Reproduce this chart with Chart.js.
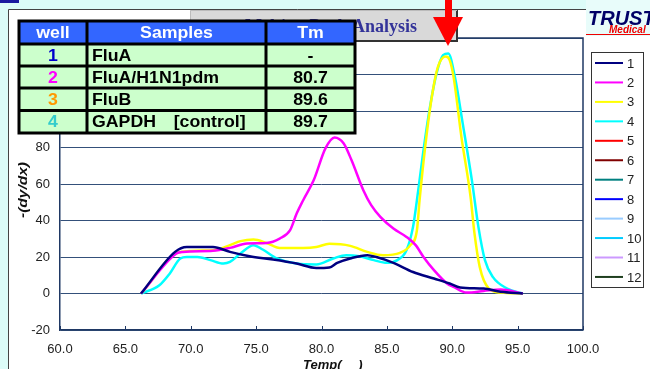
<!DOCTYPE html>
<html><head><meta charset="utf-8">
<script src="https://cdn.jsdelivr.net/npm/chart.js@4/dist/chart.umd.min.js"></script>
<style>html,body{margin:0;padding:0;background:#dcfcf8;overflow:hidden}canvas{display:block}</style>
</head><body><canvas id="c" width="650" height="369"></canvas>
<script>
// ---- data ----
const seriesLabels = ['1','2','3','4','5','6','7','8','9','10','11','12'];
const seriesColors = ['#000080','#ff00ff','#ffff00','#00ffff','#ff0000','#800000','#008080','#0000ff','#99ccff','#00ccff','#cc99ff','#1f3f1f'];

const temp1 = [66.2, 68.8, 69.7, 71.7, 73.0, 74.5, 76.3, 78.1, 79.6, 80.6, 81.2, 82.2, 83.5, 84.2, 85.5, 87.0, 88.6, 89.8, 90.6, 92.4, 93.7, 95.4];
const val1  = [0, 22.8, 25.5, 25.5, 22.8, 20.4, 18.6, 16.4, 14.0, 14.3, 16.8, 19.2, 21.0, 20.0, 16.8, 11.8, 8.2, 5.5, 3.3, 2.7, 0.9, 0];

const temp2 = [66.2, 68.9, 69.4, 71.7, 73.0, 74.3, 75.8, 76.8, 77.6, 78.1, 78.6, 79.4, 80.3, 81.0, 81.7, 82.3, 83.2, 83.8, 84.5, 85.5, 86.5, 87.2, 87.8, 88.6, 89.6, 90.1, 91.1, 92.4, 93.7, 95.4];
const val2  = [0, 21.9, 22.8, 23.4, 25.0, 27.4, 27.7, 30.1, 34.7, 43.8, 51.1, 62.0, 79.5, 85.5, 82.2, 73.0, 56.6, 48.4, 42.0, 35.6, 31.0, 26.5, 20.0, 12.8, 5.5, 3.6, 0.5, 1.4, 2.2, 0];

const temp3 = [66.2, 69.2, 71.7, 73.0, 73.8, 74.8, 75.8, 76.8, 78.6, 79.6, 80.6, 82.2, 83.5, 84.7, 86.0, 86.8, 87.3, 87.5, 87.9, 88.4, 88.9, 89.5, 89.8, 90.1, 90.7, 91.4, 91.7, 92.1, 92.8, 93.7, 95.4];
const val3  = [0, 22.8, 23.7, 26.5, 28.7, 29.6, 27.7, 25.0, 25.0, 25.5, 27.2, 26.1, 22.8, 21.0, 22.3, 26.5, 34.7, 51.0, 78.5, 106.0, 124.0, 129.8, 127.9, 118.7, 85.8, 53.0, 32.9, 14.6, 2.7, 0.5, 0];

const temp4 = [66.2, 67.6, 68.4, 69.2, 69.7, 70.5, 71.5, 72.5, 73.0, 73.8, 74.8, 75.5, 76.6, 78.1, 79.6, 80.9, 81.9, 82.9, 84.0, 85.0, 85.8, 86.5, 87.0, 87.4, 87.8, 88.3, 88.8, 89.3, 89.7, 90.2, 90.8, 91.5, 92.0, 92.5, 93.1, 94.2, 95.4];
const val4  = [0, 4.5, 11.0, 19.2, 20.0, 20.0, 18.3, 16.4, 17.3, 21.9, 26.5, 24.1, 19.2, 16.4, 15.9, 19.2, 21.0, 20.4, 18.3, 16.8, 18.3, 23.7, 36.5, 56.6, 78.5, 102.3, 120.6, 130.6, 131.5, 118.7, 93.2, 62.1, 36.5, 18.3, 9.1, 2.7, 0];

const xTickMin = 60, xTickMax = 100, xTickStep = 5;
const yTickMin = -20, yTickMax = 140, yTickStep = 20;

const tableHeader = ['well', 'Samples', 'Tm'];
const tableWells = ['1', '2', '3', '4'];
const tableWellColors = ['#0000cc', '#ff00ff', '#ff9900', '#33cccc'];
const tableSamples = ['FluA', 'FluA/H1N1pdm', 'FluB', 'GAPDH\u3000[control]'];
const tableTm = ['-', '80.7', '89.6', '89.7'];

const chartTitle = 'Melting Peak Analysis';
const xTitle = 'Temp(\u3000 )';
const yTitle = '-(dy/dx)';

// ---- build datasets ----
const series = [[temp1, val1], [temp2, val2], [temp3, val3], [temp4, val4]];
const datasets = seriesLabels.map((lab, i) => {
  const s = series[i];
  const data = s ? s[0].map((t, k) => ({x: t, y: s[1][k]})) : [];
  return {label: lab, data, borderColor: seriesColors[i], backgroundColor: seriesColors[i],
    borderWidth: 2.5, pointRadius: 0, fill: false, cubicInterpolationMode: 'monotone'};
});
const AXIS = '#1f3864';
const GRID = '#34507a';

const decor = {
  id: 'decor',
  beforeDraw(chart) {
    const ctx = chart.ctx;
    ctx.save();
    ctx.fillStyle = '#dcfcf8';
    ctx.fillRect(0, 0, 650, 369);
    ctx.fillStyle = '#1a1aa0';
    ctx.fillRect(0, 0, 19, 3);
    ctx.fillStyle = '#ffffff';
    ctx.fillRect(8, 9, 642, 360);
    ctx.strokeStyle = '#444';
    ctx.lineWidth = 1;
    ctx.beginPath();
    ctx.moveTo(8.5, 369); ctx.lineTo(8.5, 9.5); ctx.lineTo(586, 9.5);
    ctx.stroke();
    // logo
    ctx.fillStyle = '#e8fcfa';
    ctx.fillRect(586, 0, 64, 36);
    ctx.fillStyle = '#000066';
    ctx.font = 'italic bold 20px "Liberation Sans"';
    ctx.textBaseline = 'alphabetic';
    ctx.fillText('TRUST', 588, 25);
    ctx.fillStyle = '#ee0000';
    ctx.font = 'italic bold 10px "Liberation Sans"';
    ctx.fillText('Medical', 609, 33);
    ctx.strokeStyle = '#ee0000';
    ctx.beginPath(); ctx.moveTo(586, 34.5); ctx.lineTo(650, 34.5); ctx.stroke();
    ctx.restore();
  },
  afterDraw(chart) {
    const ctx = chart.ctx;
    const ca = chart.chartArea;
    const xs = chart.scales.x;
    ctx.save();
    // frame top/right
    ctx.strokeStyle = AXIS; ctx.lineWidth = 1.5;
    ctx.beginPath();
    ctx.moveTo(ca.left, ca.top); ctx.lineTo(ca.right, ca.top); ctx.lineTo(ca.right, ca.bottom);
    ctx.stroke();
    // inward x tick marks
    ctx.lineWidth = 1;
    for (let v = xTickMin; v <= xTickMax; v += xTickStep) {
      const px = Math.round(xs.getPixelForValue(v)) + 0.5;
      ctx.beginPath(); ctx.moveTo(px, ca.bottom); ctx.lineTo(px, ca.bottom - 4); ctx.stroke();
    }
    // axis titles
    ctx.fillStyle = '#111';
    ctx.font = 'italic bold 13px "Liberation Sans"';
    ctx.textAlign = 'left'; ctx.textBaseline = 'alphabetic';
    ctx.fillText(xTitle, 303, 368.5);
    ctx.save();
    ctx.translate(23, 190);
    ctx.rotate(-Math.PI / 2);
    const yw = ctx.measureText(yTitle).width;
    ctx.scale(56 / yw, 1);
    ctx.textAlign = 'center'; ctx.textBaseline = 'middle';
    ctx.fillText(yTitle, 0, 0);
    ctx.restore();
    // title box
    ctx.fillStyle = '#d9d9d9';
    ctx.fillRect(190, 10, 268, 32);
    ctx.strokeStyle = '#333'; ctx.lineWidth = 2;
    ctx.beginPath(); ctx.moveTo(457, 10); ctx.lineTo(457, 41); ctx.lineTo(190, 41); ctx.stroke();
    ctx.strokeStyle = '#bbb'; ctx.lineWidth = 1;
    ctx.beginPath(); ctx.moveTo(190.5, 41); ctx.lineTo(190.5, 10.5); ctx.lineTo(457, 10.5); ctx.stroke();
    ctx.fillStyle = '#333399';
    ctx.font = 'bold 18px "Liberation Serif"';
    ctx.textAlign = 'right'; ctx.textBaseline = 'alphabetic';
    ctx.fillText(chartTitle, 417, 32);
    // table
    const tx0 = 19, tx1 = 87, tx2 = 266, tx3 = 355;
    const ry = [21, 44, 66, 88, 110.5, 133];
    ctx.fillStyle = '#3366ff';
    ctx.fillRect(tx0, ry[0], tx3 - tx0, ry[1] - ry[0]);
    ctx.fillStyle = '#ccffcc';
    ctx.fillRect(tx0, ry[1], tx3 - tx0, ry[5] - ry[1]);
    ctx.strokeStyle = '#000'; ctx.lineWidth = 3;
    ctx.strokeRect(tx0, ry[0], tx3 - tx0, ry[5] - ry[0]);
    ctx.beginPath();
    for (let r = 1; r < 5; r++) { ctx.moveTo(tx0, ry[r]); ctx.lineTo(tx3, ry[r]); }
    ctx.moveTo(tx1, ry[0]); ctx.lineTo(tx1, ry[5]);
    ctx.moveTo(tx2, ry[0]); ctx.lineTo(tx2, ry[5]);
    ctx.stroke();
    ctx.font = 'bold 17px "Liberation Sans"';
    const sx = 127 / ctx.measureText('FluA/H1N1pdm').width;
    const put = (txt, x, y, align, color) => {
      ctx.save();
      ctx.fillStyle = color; ctx.textBaseline = 'middle';
      const w = ctx.measureText(txt).width * sx;
      let left = align === 'center' ? x - w / 2 : x;
      ctx.translate(left, y); ctx.scale(sx, 1);
      ctx.textAlign = 'left';
      ctx.fillText(txt, 0, 0);
      ctx.restore();
    };
    put(tableHeader[0], (tx0 + tx1) / 2, 33, 'center', '#ffffff');
    put(tableHeader[1], (tx1 + tx2) / 2, 33, 'center', '#ffffff');
    put(tableHeader[2], (tx2 + tx3) / 2, 33, 'center', '#ffffff');
    for (let r = 0; r < 4; r++) {
      const cy = (ry[r + 1] + ry[r + 2]) / 2 + 1;
      put(tableWells[r], (tx0 + tx1) / 2, cy, 'center', tableWellColors[r]);
      put(tableSamples[r], 92, cy, 'left', '#000');
      put(tableTm[r], (tx2 + tx3) / 2, cy, 'center', '#000');
    }
    // legend
    ctx.fillStyle = '#fff';
    ctx.fillRect(591.5, 52.5, 52, 235);
    ctx.strokeStyle = '#333'; ctx.lineWidth = 1;
    ctx.strokeRect(591.5, 52.5, 52, 235);
    ctx.font = '13px "Liberation Sans"';
    ctx.textAlign = 'left'; ctx.textBaseline = 'middle';
    chart.data.datasets.forEach((ds, i) => {
      const y = 63 + i * 19.45;
      ctx.strokeStyle = ds.borderColor; ctx.lineWidth = 2;
      ctx.beginPath(); ctx.moveTo(595, y); ctx.lineTo(623, y); ctx.stroke();
      ctx.fillStyle = '#222';
      ctx.fillText(ds.label, 627, y + 1);
    });
    // red arrow
    ctx.fillStyle = '#ff0000';
    ctx.fillRect(445, 0, 7, 18);
    ctx.beginPath(); ctx.moveTo(433, 17); ctx.lineTo(463, 17); ctx.lineTo(448, 46); ctx.closePath(); ctx.fill();
    ctx.restore();
  }
};

const tickFont = {family: '"Liberation Sans"', size: 13};

new Chart(document.getElementById('c'), {
  type: 'line',
  data: {datasets},
  options: {
    responsive: false, animation: false, devicePixelRatio: 1,
    layout: {padding: {left: 8, right: 67, top: 38, bottom: 0}},
    plugins: {legend: {display: false}, tooltip: {enabled: false}, title: {display: false}},
    scales: {
      x: {type: 'linear', min: xTickMin, max: xTickMax,
        ticks: {stepSize: xTickStep, callback: v => Number(v).toFixed(1), font: tickFont, color: '#222', padding: 12, maxRotation: 0, autoSkip: false},
        grid: {display: false, drawTicks: false},
        border: {display: true, color: AXIS, width: 1.5},
        title: {display: false},
        afterFit: s => { s.height = 39; }
      },
      y: {min: yTickMin, max: yTickMax,
        ticks: {stepSize: yTickStep, font: tickFont, color: '#222', padding: 10},
        grid: {color: GRID, lineWidth: 1, drawTicks: false},
        border: {display: true, color: AXIS, width: 1.5},
        title: {display: false},
        afterFit: s => { s.width = 52; }
      }
    }
  },
  plugins: [decor]
});
</script></body></html>
